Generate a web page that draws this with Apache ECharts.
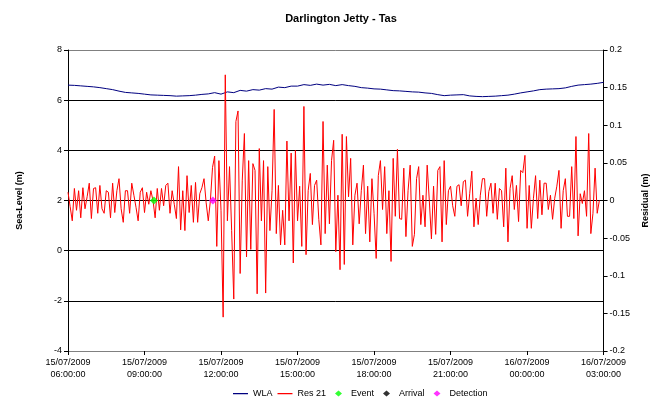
<!DOCTYPE html>
<html>
<head>
<meta charset="utf-8">
<script src="https://cdn.jsdelivr.net/npm/echarts@6/dist/echarts.min.js"></script>
<style>
  html, body { margin: 0; padding: 0; background: #fff; }
  #main { width: 658px; height: 403px; }
</style>
</head>
<body>
<div id="main"></div>
<script>
// x axis runs in hours after 15/07/2009 06:00:00
var tickLabels = ['15/07/2009\n06:00:00', '15/07/2009\n09:00:00', '15/07/2009\n12:00:00',
  '15/07/2009\n15:00:00', '15/07/2009\n18:00:00', '15/07/2009\n21:00:00',
  '16/07/2009\n00:00:00', '16/07/2009\n03:00:00'];

// WLA sea level (m), one reading every 15 minutes from 06:00
var wlaStep = 0.25;
var wlaValues = [
  6.60, 6.59, 6.57, 6.55, 6.53, 6.50, 6.46, 6.42, 6.36, 6.31, 6.29, 6.27,
  6.24, 6.21, 6.20, 6.19, 6.18, 6.16, 6.17, 6.18, 6.20, 6.23, 6.25, 6.30,
  6.24, 6.33, 6.30, 6.39, 6.36, 6.42, 6.40, 6.46, 6.44, 6.52, 6.50, 6.56,
  6.56, 6.62, 6.59, 6.64, 6.60, 6.63, 6.58, 6.62, 6.58, 6.55, 6.50, 6.48,
  6.45, 6.44, 6.41, 6.38, 6.37, 6.35, 6.33, 6.32, 6.29, 6.27, 6.22, 6.18,
  6.20, 6.21, 6.22, 6.17, 6.15, 6.14, 6.15, 6.16, 6.18, 6.20, 6.24, 6.29,
  6.33, 6.37, 6.42, 6.44, 6.45, 6.46, 6.49, 6.55, 6.60, 6.62, 6.64, 6.67, 6.71
];

// Res 21 residual (m), one reading every 5 minutes from 06:00
var resStep = 5 / 60;
var resValues = [
  0.011, -0.008, -0.027, 0.016, -0.013, 0.013, -0.023, 0.017, -0.011, 0.005,
  0.023, -0.024, 0.016, 0.017, -0.017, 0.020, -0.011, -0.017, 0.013, 0.011,
  -0.023, 0.023, -0.016, 0.013, 0.029, -0.011, -0.029, 0.013, 0.013, -0.017,
  0.023, 0.007, -0.009, -0.027, 0.011, 0.017, -0.016, 0.011, -0.005, 0.013,
  0.000, -0.023, 0.016, -0.013, 0.016, -0.007, 0.020, 0.023, -0.017, 0.013,
  -0.005, -0.024, 0.045, -0.039, 0.013, -0.040, 0.033, -0.016, 0.020, -0.029,
  0.024, -0.029, 0.009, 0.017, 0.029, -0.003, -0.027, 0.000, 0.044, 0.059,
  -0.061, 0.053, -0.013, -0.155, 0.167, -0.027, 0.045, -0.040, -0.131, 0.105,
  0.119, -0.097, 0.027, 0.089, -0.075, 0.053, -0.065, 0.049, 0.040, -0.124,
  0.069, -0.027, 0.053, -0.123, 0.045, -0.040, 0.013, 0.121, -0.044, 0.020,
  -0.059, -0.013, -0.059, 0.079, -0.027, 0.063, -0.083, 0.067, -0.027, 0.019,
  -0.061, 0.125, -0.072, 0.013, 0.036, -0.032, 0.020, 0.027, -0.025, -0.059,
  0.105, -0.044, 0.047, -0.031, 0.053, 0.080, -0.068, 0.007, -0.092, 0.088,
  -0.085, 0.085, 0.005, 0.056, -0.059, 0.007, 0.023, -0.031, 0.013, 0.047,
  -0.044, 0.019, -0.055, 0.029, -0.017, -0.077, 0.033, 0.053, -0.012, 0.045,
  -0.044, 0.013, -0.081, 0.056, -0.021, 0.068, -0.024, -0.025, 0.043, -0.048,
  0.013, 0.047, -0.061, -0.045, 0.029, 0.045, -0.032, 0.007, -0.035, 0.047,
  0.000, -0.051, 0.019, -0.045, 0.040, 0.045, -0.055, 0.053, -0.032, 0.013,
  0.019, -0.007, -0.021, 0.019, 0.021, -0.007, 0.025, 0.027, -0.021, 0.009,
  0.039, -0.035, 0.003, -0.032, 0.007, 0.029, 0.029, -0.021, 0.012, 0.023,
  -0.017, 0.023, -0.025, 0.016, 0.013, -0.035, 0.043, -0.055, 0.016, 0.033,
  -0.012, 0.020, -0.028, 0.040, 0.037, 0.060, -0.037, 0.020, -0.037, 0.003,
  0.033, -0.024, 0.027, -0.019, 0.023, 0.023, -0.012, 0.007, -0.025, 0.003,
  0.019, 0.040, -0.037, 0.013, 0.029, -0.021, -0.021, 0.045, -0.024, 0.085,
  -0.047, 0.009, -0.004, 0.013, -0.021, 0.089, -0.044, -0.017, 0.043, -0.017,
  0.000
];

// markers: [hours after 06:00, residual]
var eventPts = [[3.37, 0]];
var arrivalPts = [];
var detectionPts = [[5.68, 0]];

function toPairs(values, step) {
  return values.map(function (v, i) { return [i * step, v]; });
}

var font = 'Liberation Sans, Arial, sans-serif';
// legend icons: thin line, and a small diamond kept inside the icon box
var lineIcon = 'path://M0,3h15v1.2h-15z M0,0h0.01v0.01h-0.01z M15,7h0.01v0.01h-0.01z';
var diamondIcon = 'path://M7.5,0.5L11,3.5L7.5,6.5L4,3.5z M0,0h0.01v0.01h-0.01z M15,7h0.01v0.01h-0.01z';
var myChart = echarts.init(document.getElementById('main'));

var option = {
  animation: false,
  backgroundColor: '#fff',
  title: {
    text: 'Darlington Jetty - Tas',
    left: 336, top: 8, textAlign: 'center',
    textStyle: { fontFamily: font, fontSize: 11, fontWeight: 'bold', color: '#000' }
  },
  legend: {
    bottom: 0, left: 228,
    itemWidth: 15, itemHeight: 7, itemGap: 5,
    textStyle: { fontFamily: font, fontSize: 9, color: '#000' },
    data: [
      { name: 'WLA', icon: lineIcon, itemStyle: { color: '#000080' } },
      { name: 'Res 21', icon: lineIcon, itemStyle: { color: '#ff0000' } },
      { name: 'Event', icon: diamondIcon, itemStyle: { color: '#00ff00' } },
      { name: 'Arrival', icon: diamondIcon, itemStyle: { color: '#000000' } },
      { name: 'Detection', icon: diamondIcon, itemStyle: { color: '#ff00ff' } }
    ]
  },
  grid: { left: 68, right: 52, top: 50, bottom: 52 },
  xAxis: {
    type: 'value', min: 0, max: 21, interval: 3,
    axisLine: { onZero: false, lineStyle: { color: '#808080', width: 1 } },
    axisTick: { show: true, length: 4, lineStyle: { color: '#000' } },
    axisLabel: {
      fontFamily: font, fontSize: 9, color: '#000', lineHeight: 12, margin: 6,
      formatter: function (v) { return tickLabels[Math.round(v / 3)]; }
    },
    splitLine: { show: false }
  },
  yAxis: [{
    type: 'value', min: -4, max: 8, interval: 2,
    name: 'Sea-Level (m)', nameLocation: 'middle', nameGap: 44,
    nameTextStyle: { fontFamily: font, fontSize: 9, fontWeight: 'bold', color: '#000' },
    axisLine: { show: true, onZero: false, lineStyle: { color: '#000' } },
    axisTick: { show: true, length: 4, lineStyle: { color: '#000' } },
    axisLabel: { fontFamily: font, fontSize: 9, color: '#000', margin: 6 },
    splitLine: { lineStyle: { color: ['#808080', '#000', '#000', '#000', '#000', '#000', '#808080'], width: 1 } }
  }, {
    type: 'value', min: -0.2, max: 0.2, interval: 0.05,
    name: 'Residual (m)', nameLocation: 'middle', nameGap: 32, nameRotate: 90,
    nameTextStyle: { fontFamily: font, fontSize: 9, fontWeight: 'bold', color: '#000' },
    axisLine: { show: true, onZero: false, lineStyle: { color: '#000' } },
    axisTick: { show: true, length: 4, lineStyle: { color: '#000' } },
    axisLabel: { fontFamily: font, fontSize: 9, color: '#000', margin: 6 },
    splitLine: { show: false }
  }],
  series: [{
    name: 'WLA', type: 'line', yAxisIndex: 0,
    symbol: 'none', color: '#000080',
    lineStyle: { color: '#000080', width: 1 },
    data: toPairs(wlaValues, wlaStep)
  }, {
    name: 'Res 21', type: 'line', yAxisIndex: 1,
    symbol: 'none', color: '#ff0000',
    lineStyle: { color: '#ff0000', width: 1 },
    data: toPairs(resValues, resStep)
  }, {
    name: 'Event', type: 'scatter', yAxisIndex: 1,
    symbol: 'diamond', symbolSize: 8, color: '#00ff00', z: 5,
    data: eventPts
  }, {
    name: 'Arrival', type: 'scatter', yAxisIndex: 1,
    symbol: 'diamond', symbolSize: 8, color: '#000000', z: 5,
    data: arrivalPts
  }, {
    name: 'Detection', type: 'scatter', yAxisIndex: 1,
    symbol: 'diamond', symbolSize: 8, color: '#ff00ff', z: 5,
    data: detectionPts
  }]
};

myChart.setOption(option);
</script>
</body>
</html>
